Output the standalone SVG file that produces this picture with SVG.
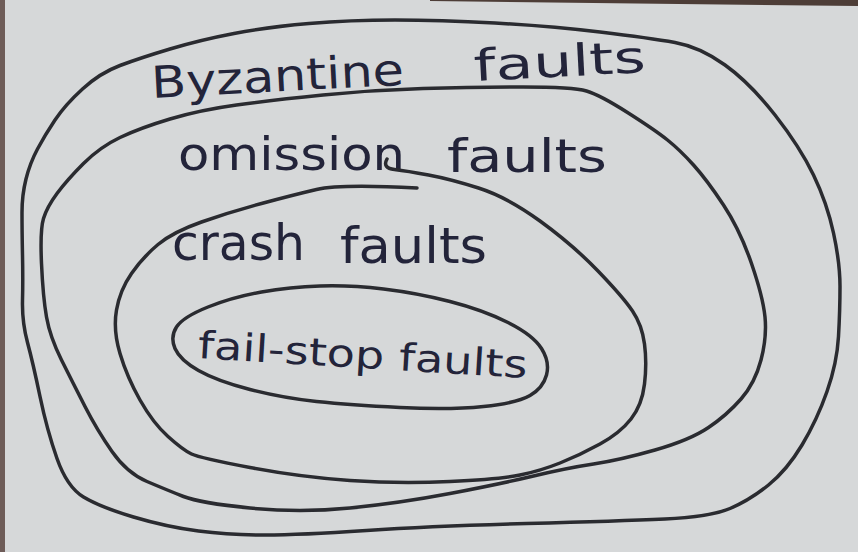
<svg xmlns="http://www.w3.org/2000/svg" width="858" height="552" viewBox="0 0 858 552">
<style>
.loop{fill:none;stroke:#2a2b30;stroke-width:3.5;stroke-linecap:round;stroke-linejoin:round}
.lbl{font-family:"DejaVu Sans","Liberation Sans",sans-serif;fill:#23243a}
</style>
<rect x="0" y="0" width="858" height="552" fill="#d6d8d9"/>
<rect x="0" y="0" width="5" height="552" fill="#6e5c58"/>
<polygon points="430,0 858,0 858,6 430,1" fill="#4d3d37"/>
<g id="byzantine">
<path class="loop" d="M 600,32 Q 650,38 675,42.5 Q 700,47 725,65 Q 750,83 775,115 Q 800,147 813.5,175 Q 827,203 833.5,233 Q 840,263 840,286.5 Q 840,310 838.5,336.5 Q 837,363 827,391.5 Q 817,420 802,445 Q 787,470 768.5,485 Q 750,500 730,508.5 Q 710,517 665,519 Q 620,521 526.5,523.5 Q 433,526 366.5,530.5 Q 300,535 265,535 Q 230,535 198.5,531 Q 167,527 133.5,517 Q 100,507 83.5,497 Q 67,487 57,458.5 Q 47,430 40,396.5 Q 33,363 27.5,342.5 Q 22,322 22.5,301 Q 23,280 22.5,255 Q 22,230 22,212.5 Q 22,195 26,179 Q 30,163 37.5,149 Q 45,135 55,120 Q 65,105 82.5,89 Q 100,73 120,65.5 Q 140,58 170,49 Q 200,40 234,33.5 Q 268,27 309,23.5 Q 350,20 395,20 Q 440,20 495,23 Q 550,26 600,32 Z"/>
<text class="lbl" font-size="44" transform="rotate(-3 152 98)"><tspan x="152" y="98" textLength="253" lengthAdjust="spacingAndGlyphs">Byzantine</tspan><tspan x="475" y="98" textLength="172" lengthAdjust="spacingAndGlyphs">faults</tspan></text>
</g>
<g id="omission">
<path class="loop" d="M 83.5,163.5 Q 100,147 120,137.5 Q 140,128 170,119 Q 200,110 236.5,105 Q 273,100 323,95 Q 373,90 423,88.5 Q 473,87 523,87 Q 573,87 586.5,91 Q 600,95 627.5,112.5 Q 655,130 667.5,140 Q 680,150 693.5,165 Q 707,180 723.5,205 Q 740,230 751.5,263.5 Q 763,297 765,317 Q 767,337 761,360 Q 755,383 741,399 Q 727,415 708.5,427.5 Q 690,440 655,450 Q 620,460 593.5,464 Q 567,468 533.5,476 Q 500,484 450,493.5 Q 400,503 350,508 Q 300,513 250,508 Q 200,503 183.5,496.5 Q 167,490 147,481.5 Q 127,473 112,451.5 Q 97,430 85,406.5 Q 73,383 61.5,360 Q 50,337 46.5,317 Q 43,297 41.5,263.5 Q 40,230 43.5,218.5 Q 47,207 57,193.5 Q 67,180 83.5,163.5 Z"/>
<text class="lbl" font-size="46"><tspan x="178" y="170" textLength="227" lengthAdjust="spacingAndGlyphs">omission</tspan><tspan x="447" y="172" textLength="160" lengthAdjust="spacingAndGlyphs">faults</tspan></text>
</g>
<g id="crash">
<path class="loop" d="M 387,159 Q 382,168 394.5,169.5 Q 407,171 428.5,175 Q 450,179 478.5,188 Q 507,197 540,221 Q 573,245 598,271 Q 623,297 632.5,311 Q 642,325 644.5,344 Q 647,363 644.5,384 Q 642,405 631,419 Q 620,433 600,444 Q 580,455 560,463 Q 540,471 520,475 Q 500,479 450,481.5 Q 400,484 350,480.5 Q 300,477 250,467.5 Q 200,458 191.5,454 Q 183,450 168,436.5 Q 153,423 140,400 Q 127,377 120,353.5 Q 113,330 116.5,310 Q 120,290 131.5,273.5 Q 143,257 158,244.5 Q 173,232 201.5,222 Q 230,212 261.5,203.5 Q 293,195 316.5,189.5 Q 340,184 417,188"/>
<text class="lbl" font-size="50"><tspan x="172" y="260" textLength="133" lengthAdjust="spacingAndGlyphs">crash</tspan><tspan x="340" y="263" textLength="147" lengthAdjust="spacingAndGlyphs">faults</tspan></text>
</g>
<g id="fail-stop">
<path class="loop" d="M 176.5,327 Q 183,317 208,307 Q 233,297 261.5,292 Q 290,287 320,286 Q 350,285 383.5,289 Q 417,293 450,301.5 Q 483,310 508,322.5 Q 533,335 541.5,348.5 Q 550,362 546.5,375 Q 543,388 530,395.5 Q 517,403 483.5,406.5 Q 450,410 400,407.5 Q 350,405 316.5,401.5 Q 283,398 250,389.5 Q 217,381 198.5,370.5 Q 180,360 175,348.5 Q 170,337 176.5,327 Z"/>
<text class="lbl" font-size="38" transform="rotate(3.5 362 368)"><tspan x="197" y="368" textLength="330" lengthAdjust="spacingAndGlyphs">fail-stop faults</tspan></text>
</g>
</svg>
